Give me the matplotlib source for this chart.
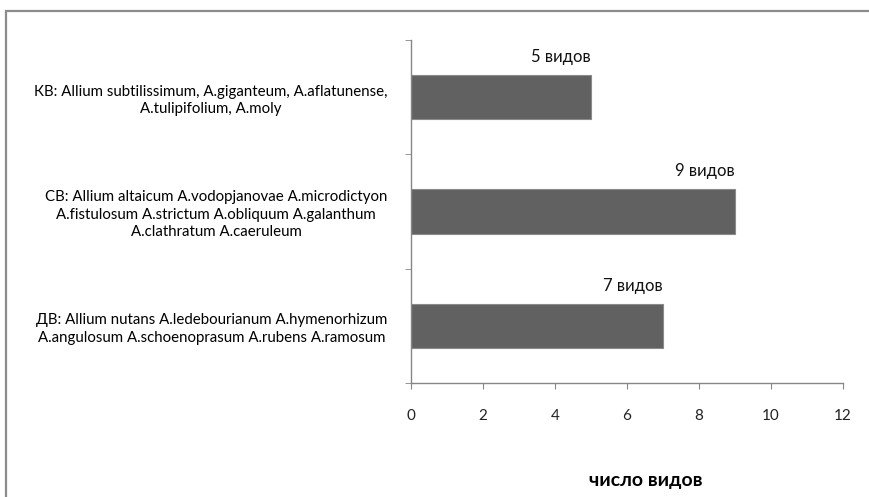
import matplotlib
matplotlib.use('Agg')
from matplotlib import pyplot as plt
from matplotlib.patches import Rectangle

# группы видов лука (снизу вверх) и число видов в каждой
groups = [
    'ДВ: Allium nutans A.ledebourianum A.hymenorhizum\nA.angulosum A.schoenoprasum A.rubens A.ramosum',
    'СВ: Allium altaicum A.vodopjanovae A.microdictyon\nA.fistulosum A.strictum A.obliquum A.galanthum\nA.clathratum A.caeruleum',
    'КВ: Allium subtilissimum, A.giganteum, A.aflatunense,\nA.tulipifolium, A.moly',
]
species_count = [7, 9, 5]
x_ticks = [0, 2, 4, 6, 8, 10, 12]

plt.rcParams['font.family'] = ['Lato', 'DejaVu Sans']

fig = plt.figure(figsize=(8.7, 4.97), dpi=100)
ax = fig.add_axes([0.4724, 0.2294, 0.9690 - 0.4724, 0.9195 - 0.2294])

y = list(range(len(groups)))
ax.barh(y, species_count, height=0.39, color='#616161',
        edgecolor='#8a8a8a', linewidth=0.8)

for yi, n in zip(y, species_count):
    ax.annotate(f'{n} видов', xy=(n, yi + 0.195), xytext=(0, 7),
                textcoords='offset points', ha='right', va='bottom',
                fontsize=12, color='#111111')

ax.set_xlim(0, 12)
ax.set_ylim(-0.5, len(groups) - 0.5)
ax.set_xticks(x_ticks)
ax.set_xticklabels([str(t) for t in x_ticks], fontsize=11, color='#222222')

ax.set_yticks(y)
ax.set_yticklabels(groups, fontsize=10.8, multialignment='center',
                   linespacing=1.3)
ax.set_yticks([i - 0.5 for i in range(len(groups) + 1)], minor=True)
ax.tick_params(axis='y', which='major', length=0, pad=17)
ax.tick_params(axis='y', which='minor', length=4, color='#868686', direction='out')
ax.tick_params(axis='x', length=4, color='#868686', direction='out', pad=15)

for side in ('top', 'right'):
    ax.spines[side].set_visible(False)
for side in ('left', 'bottom'):
    ax.spines[side].set_color('#868686')
    ax.spines[side].set_linewidth(1.0)

ax.set_xlabel('число видов', fontsize=14, fontweight='bold', va='center')
ax.xaxis.set_label_coords(0.544, -0.283)

# серая рамка области диаграммы
fig.patches.append(Rectangle((6 / 870, -0.1), 1.2, 1.1 - 11 / 497,
                             transform=fig.transFigure, fill=False,
                             edgecolor='#8c8c8c', linewidth=1.6))

fig.savefig('out.png', dpi=100, facecolor='white')
